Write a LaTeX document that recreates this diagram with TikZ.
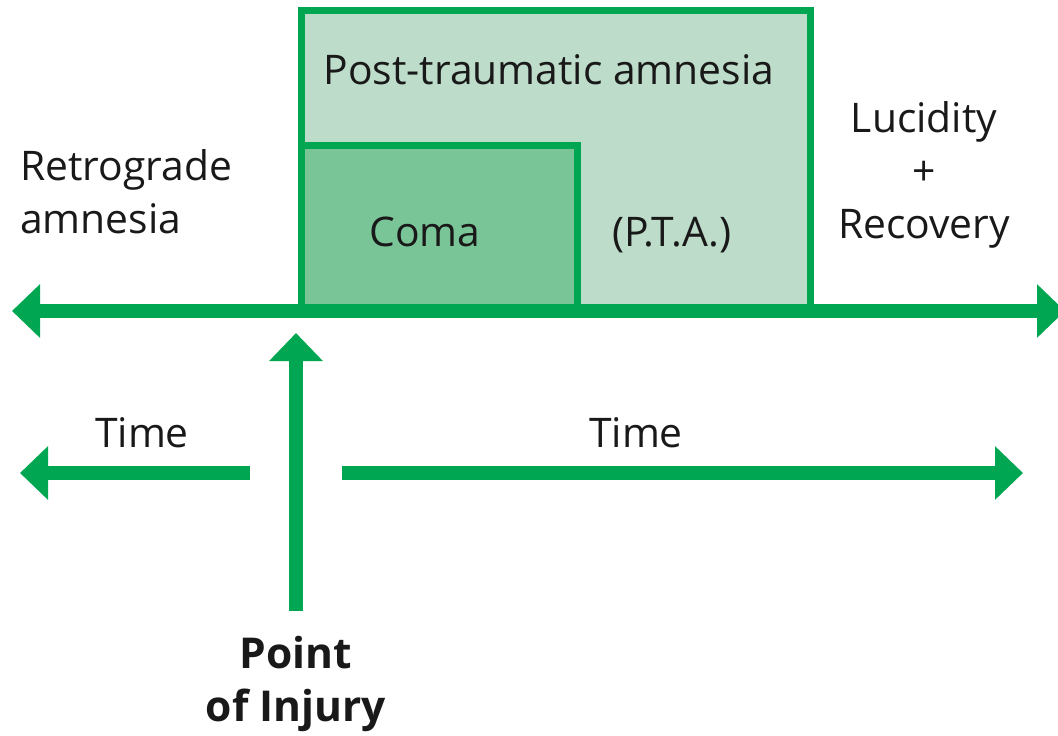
\documentclass[tikz,border=0pt]{standalone}
\usepackage{fontspec}
\setmainfont{Open Sans}
\usetikzlibrary{arrows.meta}
\definecolor{lgreen}{RGB}{0,166,81}
\definecolor{ptafill}{RGB}{190,220,202}
\definecolor{comafill}{RGB}{122,197,152}
\definecolor{txt}{RGB}{25,25,25}
\tikzset{
  box/.style={draw=lgreen, line width=7pt, inner sep=0pt, outer sep=0pt},
  arr/.style={draw=lgreen, line width=14.5pt, -{Triangle[length=28pt,width=52pt]}},
  darr/.style={draw=lgreen, line width=14.5pt, {Triangle[length=28pt,width=52pt]}-{Triangle[length=28pt,width=52pt]}},
  lbl/.style={text=txt, inner sep=0pt, font=\fontsize{40.8}{53}\selectfont},
}
\begin{document}
\begin{tikzpicture}[x=1pt,y=-1pt]
\fill[white] (0,0) rectangle (1058,736);
\useasboundingbox (0,0) rectangle (1058,736);
% boxes
\node[box, fill=ptafill, minimum width=509pt, minimum height=300.5pt] (pta) at (555.5,160.75) {};
\node[box, fill=comafill, minimum width=276pt, minimum height=166pt] (coma) at (439,228) {};
% axis
\coordinate (axL) at (12,311);
\coordinate (axR) at (1065,311);
\draw[darr] (axL) -- (axR);
% injury arrow
\coordinate (injB) at (296,611);
\coordinate (injT) at (296,333);
\draw[arr] (injB) -- (injT);
% time arrows
\coordinate (tlS) at (250,473);
\coordinate (tlE) at (20,473);
\draw[arr] (tlS) -- (tlE);
\coordinate (trS) at (342,473);
\coordinate (trE) at (1023,473);
\draw[arr] (trS) -- (trE);
% labels
\node[lbl] (ptatext) at (549,70) {Post-traumatic amnesia};
\node[lbl] (comatext) at (425,232) {Coma};
\node[lbl] (ptaabbr) at (672,235) {(P.T.A.)};
\node[lbl, align=left, anchor=west] (retro) at (20,192) {Retrograde\\amnesia};
\node[lbl, align=center] (lucid) at (924,175) {Lucidity\\+\\Recovery};
\node[lbl] (timeL) at (142,433) {Time};
\node[lbl] (timeR) at (636,433) {Time};
\node[lbl, align=center, font=\fontsize{42.5}{53}\selectfont\bfseries] (injury) at (296,684) {Point\\of Injury};
\end{tikzpicture}
\end{document}
